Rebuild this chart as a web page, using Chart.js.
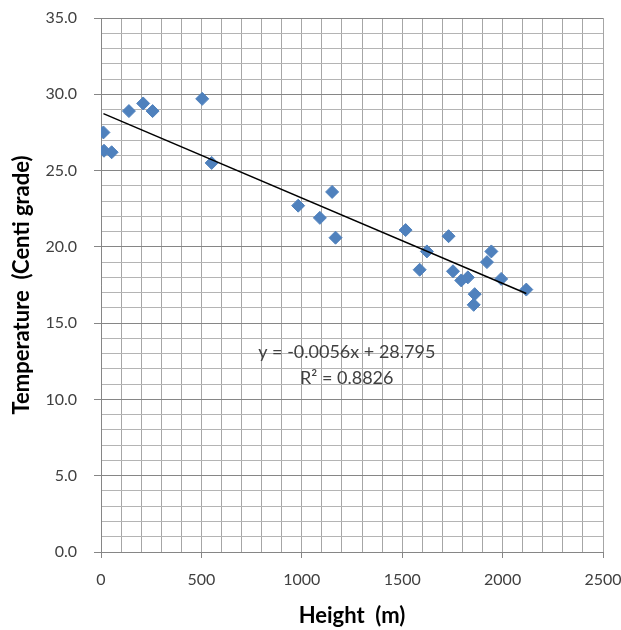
<!DOCTYPE html>
<html>
<head>
<meta charset="utf-8">
<script src="https://cdn.jsdelivr.net/npm/chart.js@4.4.1/dist/chart.umd.min.js"></script>
<style>
  html, body { margin: 0; padding: 0; background: #fff; }
  #wrap { width: 621px; height: 630px; position: relative; }
</style>
</head>
<body>
<div id="wrap"><canvas id="grafica"></canvas></div>
<script>
// Datos: altura (m) y temperatura (°C)
var alturas = [12, 15, 53, 139, 210, 257, 504, 551, 982, 1090, 1151, 1168,
               1517, 1587, 1623, 1731, 1753, 1794, 1827, 1856, 1861, 1922, 1944, 1993, 2118];
var temperaturas = [27.5, 26.3, 26.2, 28.9, 29.4, 28.9, 29.7, 25.5, 22.7, 21.9, 23.6, 20.6,
                    21.1, 18.5, 19.7, 20.7, 18.4, 17.8, 18.0, 16.2, 16.9, 19.0, 19.7, 17.9, 17.2];

// Línea de tendencia (extremos)
var tendenciaX = [12, 2118];
var tendenciaY = [28.73, 16.94];

var ecuacion = 'y = -0.0056x + 28.795';
var r2 = 'R\u00B2 = 0.8826';

var fuente = 'Lato, "Open Sans", "DejaVu Sans", sans-serif';

// Texto de la ecuación dentro del gráfico
var textoEcuacion = {
    id: 'textoEcuacion',
    afterDatasetsDraw: function(chart) {
        var ctx = chart.ctx;
        var x = chart.scales.x.getPixelForValue(1224);
        ctx.save();
        ctx.fillStyle = '#404040';
        ctx.font = '18px ' + fuente;
        ctx.textAlign = 'center';
        ctx.textBaseline = 'middle';
        ctx.fillText(ecuacion, x, chart.scales.y.getPixelForValue(13.1));
        ctx.fillText(r2, x, chart.scales.y.getPixelForValue(11.4));
        ctx.restore();
    }
};

var ctx = document.getElementById('grafica').getContext('2d');
new Chart(ctx, {
    type: 'scatter',
    data: {
        datasets: [{
            label: 'Temperatura',
            data: alturas.map(function(h, i) { return { x: h, y: temperaturas[i] }; }),
            pointStyle: 'rectRot',
            pointRadius: 6.5,
            backgroundColor: '#4F81BD',
            borderColor: '#4F81BD',
            borderWidth: 1,
            order: 1
        }, {
            label: 'Tendencia',
            type: 'line',
            data: tendenciaX.map(function(h, i) { return { x: h, y: tendenciaY[i] }; }),
            borderColor: '#000',
            borderWidth: 1.5,
            pointRadius: 0,
            fill: false,
            order: 0
        }]
    },
    options: {
        responsive: true,
        maintainAspectRatio: false,
        animation: false,
        layout: { padding: { top: 18, right: 18, left: 0, bottom: 0 } },
        plugins: {
            legend: { display: false },
            tooltip: { enabled: false }
        },
        scales: {
            x: {
                type: 'linear',
                min: 0,
                max: 2500,
                afterFit: function(scale) {
                    scale.height = 78;
                    scale.paddingLeft = 0;
                    scale.paddingRight = 0;
                },
                ticks: {
                    stepSize: 100,
                    autoSkip: false,
                    maxRotation: 0,
                    padding: 12,
                    color: '#404040',
                    font: { family: fuente, size: 16 },
                    callback: function(v) { return v % 500 === 0 ? v : ''; }
                },
                grid: {
                    color: '#a6a6a6',
                    tickLength: 6,
                    tickColor: function(c) { return c.tick && c.tick.value % 500 === 0 ? '#868686' : 'rgba(0,0,0,0)'; }
                },
                border: { color: '#868686' },
                title: {
                    display: true,
                    text: 'Height  (m)',
                    color: '#000',
                    font: { family: fuente, size: 22, weight: 'bold' },
                    padding: { top: 0, bottom: 1 }
                }
            },
            y: {
                min: 0,
                max: 35,
                afterFit: function(scale) {
                    scale.width = 101;
                    scale.paddingTop = 0;
                    scale.paddingBottom = 0;
                },
                ticks: {
                    stepSize: 1,
                    autoSkip: false,
                    padding: 17,
                    color: '#404040',
                    font: { family: fuente, size: 16 },
                    callback: function(v) { return v % 5 === 0 ? v.toFixed(1) : ''; }
                },
                grid: {
                    color: function(c) { return c.tick && c.tick.value % 5 === 0 ? '#868686' : '#b4b4b4'; },
                    tickLength: 7,
                    tickColor: function(c) { return c.tick && c.tick.value % 5 === 0 ? '#868686' : 'rgba(0,0,0,0)'; }
                },
                border: { color: '#868686' },
                title: {
                    display: true,
                    text: 'Temperature  (Centi grade)',
                    color: '#000',
                    font: { family: fuente, size: 22, weight: 'bold' },
                    padding: { top: 9, bottom: 0 }
                }
            }
        }
    },
    plugins: [textoEcuacion]
});
</script>
</body>
</html>
